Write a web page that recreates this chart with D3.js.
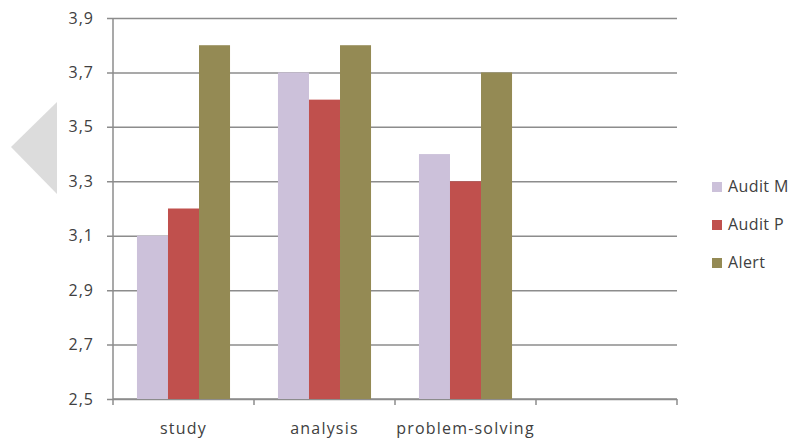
<!DOCTYPE html>
<head>
  <meta charset="utf-8">
  <script src="https://d3js.org/d3.v7.min.js"></script>
  <style>
    body{ margin: 0; background: #ffffff; }
    text{
      font-family: "Open Sans", sans-serif;
      fill: #404040;
    }
    .tick text{ font-size: 16px; fill: #404040; letter-spacing: 1px; }
    text.cat{ font-size: 16px; letter-spacing: 1.2px; }
    .legend text{ font-size: 16px; letter-spacing: 0.4px; }
  </style>
</head>
<body>
  <script>
    // data
    var categories = ['study', 'analysis', 'problem-solving', ''];
    var series = ['Audit M', 'Audit P', 'Alert'];
    var auditM = [3.1, 3.7, 3.4, null];
    var auditP = [3.2, 3.6, 3.3, null];
    var alert_ = [3.8, 3.8, 3.7, null];
    var colours = ['#ccc1da', '#c0504d', '#948a54'];
    var yTicks = [2.5, 2.7, 2.9, 3.1, 3.3, 3.5, 3.7, 3.9];

    var width = 795, height = 439;
    var margin = {top: 18, right: 118, bottom: 40, left: 113};

    var svg = d3.select('body').append('svg')
      .attr('width', width)
      .attr('height', height);

    // grey slide arrow on the left edge
    svg.append('path')
      .attr('d', d3.line()([[57, 102], [11, 147], [57, 194]]) + 'Z')
      .style('fill', '#dcdcdc');

    var x0 = d3.scaleBand()
      .domain(categories)
      .range([margin.left, width - margin.right])
      .paddingInner(0.34)
      .paddingOuter(0.17);

    var x1 = d3.scaleBand()
      .domain(series)
      .range([0, x0.bandwidth()]);

    var y = d3.scaleLinear()
      .domain([2.5, 3.9])
      .range([height - margin.bottom, margin.top]);

    var fmt = d => d3.format('.1f')(d).replace('.', ',');

    // y axis with gridlines
    svg.append('g')
      .attr('class', 'yAxis')
      .attr('transform', `translate(${margin.left},0)`)
      .call(d3.axisLeft(y).tickValues(yTicks).tickFormat(fmt)
        .tickSize(-(width - margin.right - margin.left)).tickPadding(19))
      .call(g => g.selectAll('.tick line')
        .attr('x1', -6)
        .style('stroke', '#8c8c8c').style('stroke-width', 1.5))
      .call(g => g.select('.domain').style('stroke', '#8c8c8c').style('stroke-width', 1.5)
        .attr('d', `M0,${y(2.5)}V${y(3.9)}`));

    // x axis: ticks sit on the band boundaries
    var xAxis = svg.append('g')
      .attr('class', 'xAxis')
      .attr('transform', `translate(0,${y(2.5)})`);
    xAxis.append('path')
      .attr('d', `M${margin.left},0H${width - margin.right}`)
      .style('stroke', '#8c8c8c').style('stroke-width', 1.5);
    var bounds = categories.map((c, i) => x0.range()[0] + i * x0.step()).concat([width - margin.right]);
    xAxis.selectAll('line.tk')
      .data(bounds)
      .enter().append('line')
      .attr('class', 'tk')
      .attr('x1', d => d).attr('x2', d => d)
      .attr('y1', 0).attr('y2', 6)
      .style('stroke', '#8c8c8c').style('stroke-width', 1.5);
    xAxis.selectAll('text.cat')
      .data(categories)
      .enter().append('text')
      .attr('class', 'cat')
      .attr('x', d => x0(d) + x0.bandwidth() / 2)
      .attr('y', 35)
      .style('text-anchor', 'middle')
      .text(d => d);

    // bars
    var values = [auditM, auditP, alert_];
    var rows = [];
    categories.forEach((c, i) => {
      series.forEach((s, j) => {
        if (values[j][i] != null) rows.push({cat: c, s: s, v: values[j][i], col: colours[j]});
      });
    });

    svg.selectAll('rect.bar')
      .data(rows)
      .enter().append('rect')
      .attr('class', 'bar')
      .attr('x', d => x0(d.cat) + x1(d.s))
      .attr('width', x1.bandwidth())
      .attr('y', d => y(d.v))
      .attr('height', d => y(2.5) - y(d.v))
      .style('fill', d => d.col);

    // legend
    var legend = svg.append('g').attr('class', 'legend')
      .selectAll('g')
      .data(series)
      .enter().append('g')
      .attr('transform', (d, i) => `translate(712,${182 + i * 38})`);
    legend.append('rect')
      .attr('width', 10).attr('height', 10)
      .style('fill', (d, i) => colours[i]);
    legend.append('text')
      .attr('x', 16).attr('y', 10)
      .text(d => d);
  </script>
</body>
